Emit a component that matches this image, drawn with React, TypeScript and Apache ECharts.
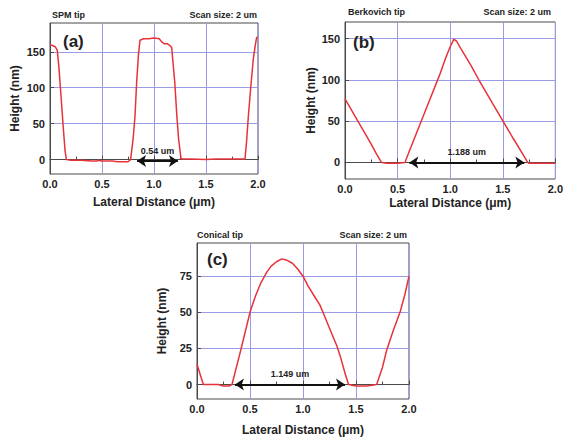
import React, { useEffect, useRef } from 'react';
import * as echarts from 'echarts';

// Panel (a) SPM tip
const xA = [0, 0.02, 0.05, 0.07, 0.085, 0.1, 0.115, 0.13, 0.145, 0.158, 0.2, 0.3, 0.4, 0.45, 0.46, 0.5, 0.6, 0.65, 0.7, 0.75, 0.775, 0.8, 0.817, 0.833, 0.85, 0.865, 0.9, 0.95, 1.0, 1.05, 1.08, 1.1, 1.13, 1.15, 1.17, 1.2, 1.22, 1.237, 1.26, 1.28, 1.35, 1.5, 1.6, 1.7, 1.8, 1.875, 1.89, 1.907, 1.93, 1.955, 1.975, 1.987, 2.0];
const yA = [159, 159, 157, 152, 130, 100, 70, 40, 12, 0, -1, -1, -2, -2, -1, -2, -2, -3, -3, -3, 0, 30, 60, 107, 145, 166, 168, 168, 169, 168, 163, 161, 161, 159, 156, 107, 60, 28, 1, 1, 1, 0, 1, 1, 1, 1, 25, 60, 100, 140, 160, 170, 170];

// Panel (b) Berkovich tip
const xB = [0, 0.05, 0.1, 0.15, 0.2, 0.25, 0.3, 0.347, 0.4, 0.45, 0.5, 0.57, 0.6, 0.65, 0.7, 0.8, 0.9, 0.956, 1.0, 1.034, 1.06, 1.1, 1.2, 1.268, 1.3, 1.4, 1.516, 1.6, 1.7, 1.737, 1.75, 1.8, 1.9, 2.0];
const yB = [77, 66, 55, 44, 33, 22, 10, 0, -1, -1, -1, 0, 10, 26, 42, 74, 106, 126, 140, 149, 147, 138, 117, 101, 94, 72, 47, 29, 8, 0, -1, -1, -1, -1];

// Panel (c) Conical tip
const xC = [0, 0.03, 0.06, 0.1, 0.2, 0.25, 0.3, 0.33, 0.4, 0.45, 0.5, 0.55, 0.6, 0.66, 0.7, 0.75, 0.8, 0.85, 0.9, 0.95, 1.0, 1.05, 1.1, 1.16, 1.2, 1.25, 1.318, 1.35, 1.4, 1.43, 1.5, 1.6, 1.695, 1.75, 1.79, 1.85, 1.915, 1.96, 2.0];
const yC = [14, 7, 0, 0, 0, -1, -1, 0, 20, 35, 50, 61, 70, 78, 82, 85, 87, 86, 84, 80, 75, 68, 62, 55, 48, 39, 27, 20, 7, 0, -1, -1, 0, 12, 24, 37, 50, 62, 75];

const xTicks = [0, 0.5, 1, 1.5, 2];
const yTicksAB = [0, 50, 100, 150];
const yTicksC = [0, 25, 50, 75];

const arrowA = [0.837, 1.23, -2];
const arrowB = [0.612, 1.705, 0];
const arrowC = [0.358, 1.396, 0];
const arrowLabels = ['0.54 um', '1.188 um', '1.149 um'];
const tipNames = ['SPM tip', 'Berkovich tip', 'Conical tip'];
const panelTags = ['(a)', '(b)', '(c)'];
const scanText = 'Scan size: 2 um';

const FONT = '"Liberation Sans", Arial, sans-serif';
const GRIDC = '#9a9ae6';
const FRAME = '#4a4a4a';
const TXT = '#222';

function makeSeries(idx: number, xs: number[], ys: number[], arrow: number[], label: string) {
  return {
    type: 'line',
    xAxisIndex: idx,
    yAxisIndex: idx,
    data: xs.map((x, i) => [x, ys[i]]),
    symbol: 'none',
    showSymbol: false,
    lineStyle: { color: '#e8323a', width: 1.5 },
    z: 3,
    markLine: {
      silent: true,
      symbol: ['arrow', 'arrow'],
      symbolSize: 9,
      lineStyle: { color: '#111', width: 2, type: 'solid' },
      label: {
        show: true,
        position: 'middle',
        formatter: label,
        color: TXT,
        fontSize: 9,
        fontWeight: 'bold',
        fontFamily: FONT,
        distance: 6,
      },
      data: [[{ coord: [arrow[0], arrow[2]] }, { coord: [arrow[1], arrow[2]] }]],
    },
  };
}

function makeX(idx: number, nameGap: number) {
  return {
    type: 'value',
    gridIndex: idx,
    min: 0,
    max: 2,
    interval: 0.5,
    axisLine: { show: true, lineStyle: { color: FRAME, width: 1 } },
    axisTick: { show: true, inside: true, length: 4, lineStyle: { color: FRAME } },
    minorTick: { show: true, splitNumber: 2, length: 3, lineStyle: { color: FRAME } },
    splitLine: { show: true, lineStyle: { color: GRIDC, width: 1 } },
    axisLabel: {
      customValues: xTicks,
      formatter: (v: number) => v.toFixed(1),
      fontSize: 11,
      fontWeight: 'bold',
      fontFamily: FONT,
      color: TXT,
      margin: 4,
    },
    name: 'Lateral Distance (\u03bcm)',
    nameLocation: 'middle',
    nameGap,
    nameTextStyle: { fontSize: 12, fontWeight: 'bold', fontFamily: FONT, color: TXT },
  };
}

function makeY(idx: number, min: number, max: number, ticks: number[], nameGap: number) {
  return {
    type: 'value',
    gridIndex: idx,
    min,
    max,
    axisLine: { show: true, lineStyle: { color: FRAME, width: 1 } },
    axisTick: { show: true, inside: true, length: 4, customValues: ticks, lineStyle: { color: FRAME } },
    splitLine: { show: true, lineStyle: { color: GRIDC, width: 1 } },
    axisLabel: {
      customValues: ticks,
      fontSize: 11,
      fontWeight: 'bold',
      fontFamily: FONT,
      color: TXT,
      margin: 5,
    },
    name: 'Height (nm)',
    nameLocation: 'middle',
    nameGap,
    nameTextStyle: { fontSize: 12, fontWeight: 'bold', fontFamily: FONT, color: TXT },
  };
}

function txt(x: number, y: number, text: string, size: number, align: string) {
  return {
    type: 'text',
    x,
    y,
    style: {
      text,
      fontSize: size,
      fontWeight: 'bold',
      fontFamily: FONT,
      fill: TXT,
      align,
      verticalAlign: 'middle',
    },
    z: 10,
  };
}

export default function App() {
  const ref = useRef<HTMLDivElement>(null);
  useEffect(() => {
    if (!ref.current) return;
    const chart = echarts.init(ref.current, null, { renderer: 'svg' });
    const gridStyle = { show: true, borderColor: FRAME, borderWidth: 1, backgroundColor: 'transparent' };
    chart.setOption({
      animation: false,
      backgroundColor: '#fff',
      grid: [
        { left: 50, top: 23, width: 208, height: 151, ...gridStyle },
        { left: 345, top: 22, width: 213, height: 157, ...gridStyle },
        { left: 197, top: 243, width: 212, height: 156, ...gridStyle },
      ],
      xAxis: [makeX(0, 22), makeX(1, 18), makeX(2, 25)],
      yAxis: [
        makeY(0, -20, 190, yTicksAB, 29),
        makeY(1, -20, 170, yTicksAB, 28),
        makeY(2, -10, 98, yTicksC, 29),
      ],
      series: [
        makeSeries(0, xA, yA, arrowA, arrowLabels[0]),
        makeSeries(1, xB, yB, arrowB, arrowLabels[1]),
        makeSeries(2, xC, yC, arrowC, arrowLabels[2]),
      ],
      graphic: [
        txt(52, 15, tipNames[0], 9, 'left'),
        txt(257, 15, scanText, 9, 'right'),
        txt(348, 12, tipNames[1], 9, 'left'),
        txt(551, 12, scanText, 9, 'right'),
        txt(197, 235, tipNames[2], 9, 'left'),
        txt(407, 235, scanText, 9, 'right'),
        txt(63, 41, panelTags[0], 17, 'left'),
        txt(353, 42, panelTags[1], 17, 'left'),
        txt(207, 259, panelTags[2], 17, 'left'),
      ],
    });
    return () => chart.dispose();
  }, []);
  return (
    <div
      ref={ref}
      style={{ position: 'absolute', left: 0, top: 0, width: 566, height: 439 }}
    />
  );
}
